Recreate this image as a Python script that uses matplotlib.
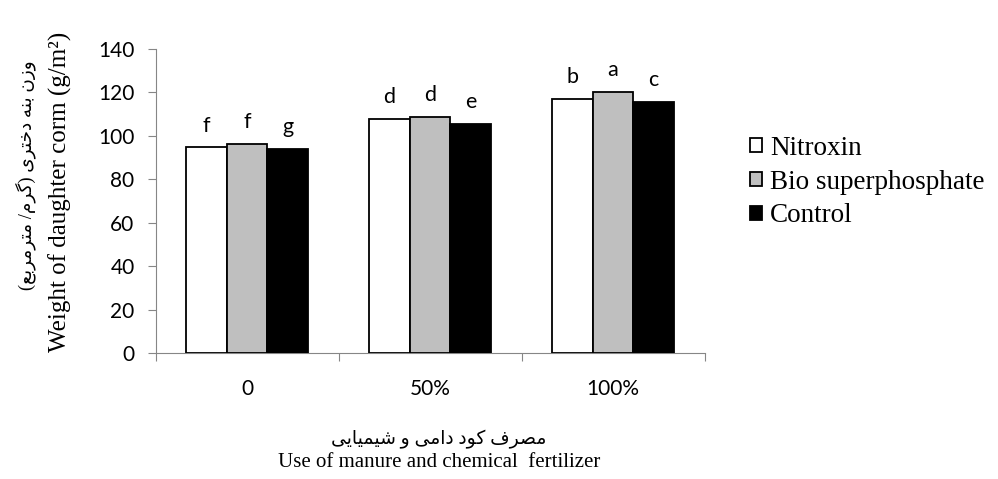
import matplotlib

matplotlib.use("Agg")
import matplotlib.pyplot as plt
import numpy as np

# data
groups = ["0", "50%", "100%"]
series = ["Nitroxin", "Bio superphosphate", "Control"]
nitroxin = [94.6, 107.8, 117.0]
bio_super = [96.1, 108.7, 120.1]
control = [93.9, 105.6, 115.5]
letters = [["f", "d", "b"], ["f", "d", "a"], ["g", "e", "c"]]

ylabel_fa = "وزن بنه دختری (گرم/ مترمربع)"
ylabel_en = "Weight of daughter corm (g/m²)"
xlabel_fa = "مصرف کود دامی و شیمیایی"
xlabel_en = "Use of manure and chemical  fertilizer"

# Arabic presentation forms: isolated, final, initial, medial
FORMS = {
    "ا": ("\uFE8D", "\uFE8E", None, None),
    "ب": ("\uFE8F", "\uFE90", "\uFE91", "\uFE92"),
    "ت": ("\uFE95", "\uFE96", "\uFE97", "\uFE98"),
    "خ": ("\uFEA5", "\uFEA6", "\uFEA7", "\uFEA8"),
    "د": ("\uFEA9", "\uFEAA", None, None),
    "ر": ("\uFEAD", "\uFEAE", None, None),
    "ز": ("\uFEAF", "\uFEB0", None, None),
    "ش": ("\uFEB5", "\uFEB6", "\uFEB7", "\uFEB8"),
    "ص": ("\uFEB9", "\uFEBA", "\uFEBB", "\uFEBC"),
    "ع": ("\uFEC9", "\uFECA", "\uFECB", "\uFECC"),
    "ف": ("\uFED1", "\uFED2", "\uFED3", "\uFED4"),
    "م": ("\uFEE1", "\uFEE2", "\uFEE3", "\uFEE4"),
    "ن": ("\uFEE5", "\uFEE6", "\uFEE7", "\uFEE8"),
    "ه": ("\uFEE9", "\uFEEA", "\uFEEB", "\uFEEC"),
    "و": ("\uFEED", "\uFEEE", None, None),
    "ک": ("\uFB8E", "\uFB8F", "\uFB90", "\uFB91"),
    "گ": ("\uFB92", "\uFB93", "\uFB94", "\uFB95"),
    "ی": ("\uFBFC", "\uFBFD", "\uFBFE", "\uFBFF"),
}


def shape_rtl(text):
    """Pick joined letter forms and flip to visual order (no bidi lib here)."""
    out = []
    n = len(text)
    for i, ch in enumerate(text):
        if ch not in FORMS:
            out.append(ch)
            continue
        prev = text[i - 1] if i > 0 else None
        nxt = text[i + 1] if i < n - 1 else None
        joins_prev = prev in FORMS and FORMS[prev][2] is not None
        joins_next = FORMS[ch][2] is not None and nxt in FORMS
        iso, fin, ini, med = FORMS[ch]
        if joins_prev and joins_next:
            out.append(med)
        elif joins_prev:
            out.append(fin)
        elif joins_next:
            out.append(ini)
        else:
            out.append(iso)
    vis = "".join(reversed(out))
    return vis.translate(str.maketrans("()", ")("))


SANS = ["Lato", "DejaVu Sans"]
SERIF = ["Liberation Serif", "DejaVu Sans"]
AXIS = "#868686"

fig = plt.figure(figsize=(9.98, 4.79), dpi=100)
ax = fig.add_axes([0.156, 0.263, 0.55, 0.635])

x = np.arange(len(groups))
w = 0.222
vals = [nitroxin, bio_super, control]
fills = ["white", "#bfbfbf", "black"]
for k, (v, fc) in enumerate(zip(vals, fills)):
    xs = x + (k - 1) * w
    ax.bar(xs, v, width=w, color=fc, edgecolor="black", linewidth=1.3,
           label=series[k], zorder=3)
    for xi, vi, lab in zip(xs, v, letters[k]):
        ax.text(xi, vi + 5.5, lab, ha="center", va="bottom", fontsize=15.5,
                family=SANS)

ax.set_xlim(-0.5, 2.5)
ax.set_ylim(0, 140)
ax.set_yticks(np.arange(0, 141, 20))
ax.set_yticklabels([str(t) for t in range(0, 141, 20)], family=SANS,
                   fontsize=15)
ax.set_xticks([-0.5, 0.5, 1.5, 2.5])
ax.set_xticklabels([])
ax.set_xticks(x, minor=True)
ax.set_xticklabels(groups, minor=True, family=SANS, fontsize=15)
ax.tick_params(axis="x", which="minor", length=0, pad=19)
ax.tick_params(axis="x", which="major", length=5.8, color=AXIS)
ax.tick_params(axis="y", length=5.8, color=AXIS, pad=9.4)
for s in ("top", "right"):
    ax.spines[s].set_visible(False)
for s in ("left", "bottom"):
    ax.spines[s].set_color(AXIS)

fig.text(0.06, 0.6, ylabel_en, rotation=90, ha="center", va="center",
         family=SERIF, fontsize=18)
fig.text(0.026, 0.635, shape_rtl(ylabel_fa), rotation=90, ha="center",
         va="center", family=SERIF, fontsize=13.3)
fig.text(0.44, 0.082, shape_rtl(xlabel_fa), ha="center", va="center",
         family=SERIF, fontsize=13.5)
fig.text(0.44, 0.035, xlabel_en, ha="center", va="center", family=SERIF,
         fontsize=15)

fig.legend(*ax.get_legend_handles_labels(), loc="center left",
           bbox_to_anchor=(0.7515, 0.62), bbox_transform=fig.transFigure,
           frameon=False, prop={"family": SERIF, "size": 19.5},
           handlelength=0.45, handleheight=0.45, handletextpad=0.3,
           labelspacing=0.33, borderaxespad=0, borderpad=0)

fig.savefig("out.png", dpi=100, facecolor="white")
